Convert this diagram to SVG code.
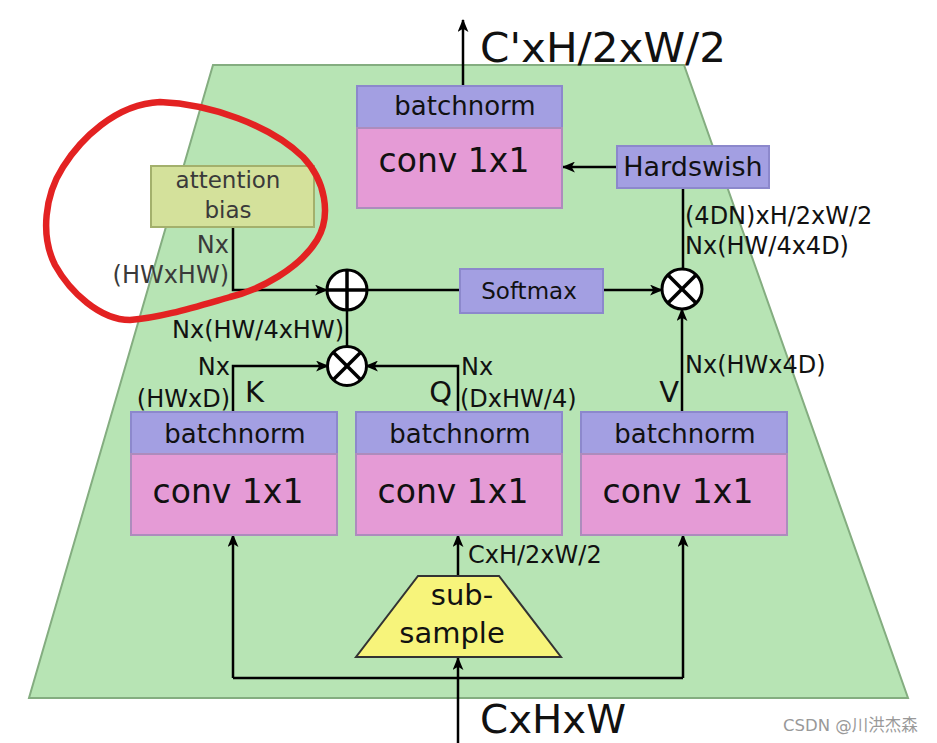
<svg xmlns="http://www.w3.org/2000/svg" width="937" height="743" viewBox="0 0 937 743">
<style>
text{font-family:"DejaVu Sans","Noto Sans",sans-serif;fill:#111}
.hdr{fill:#a39fe2;stroke:#8c88cc;stroke-width:2}
.body{fill:#e59bd6;stroke:#ad8cbd;stroke-width:2}
.bn{font-size:26px;text-anchor:middle}
.cv{font-size:33px;text-anchor:middle}
.lbl{font-size:24px}
.big{font-size:41px}
.qkv{font-size:29px}
.ln{fill:none;stroke:#000;stroke-width:2.5}
.op{fill:#fff;stroke:#000;stroke-width:3}
.opl{stroke:#000;stroke-width:3.5}
</style>
<defs>
<marker id="ah" viewBox="0 0 12 10" refX="11" refY="5" markerWidth="13" markerHeight="11" markerUnits="userSpaceOnUse" orient="auto">
<path d="M0,0 L12,5 L0,10 L3,5 Z" fill="#000"/>
</marker>
</defs>
<g id="background">
<polygon points="213,65 684,65 908,698 29,698" fill="#b7e4b4" stroke="#84ad80" stroke-width="2"/>
</g>
<g id="connectors">
<path class="ln" d="M463,85 V20" marker-end="url(#ah)"/>
<path class="ln" d="M617,167 H563" marker-end="url(#ah)"/>
<path class="ln" d="M683,189 V269"/>
<path class="ln" d="M233,227 V290 H327" marker-end="url(#ah)"/>
<path class="ln" d="M367,290 H460"/>
<path class="ln" d="M603,290 H662" marker-end="url(#ah)"/>
<path class="ln" d="M347,347 V310"/>
<path class="ln" d="M233,412 V366 H328" marker-end="url(#ah)"/>
<path class="ln" d="M458,412 V366 H366" marker-end="url(#ah)"/>
<path class="ln" d="M682,412 V309" marker-end="url(#ah)"/>
<path class="ln" d="M458,576 V535" marker-end="url(#ah)"/>
<path class="ln" d="M458,743 V658" marker-end="url(#ah)"/>
<path class="ln" d="M233,678 H683"/>
<path class="ln" d="M233,678 V535" marker-end="url(#ah)"/>
<path class="ln" d="M683,678 V535" marker-end="url(#ah)"/>
</g>
<g id="conv-out">
<rect class="hdr" x="357" y="86" width="205" height="42"/>
<rect class="body" x="357" y="128" width="205" height="80"/>
<text class="bn" x="465" y="115">batchnorm</text>
<text class="cv" x="454" y="172">conv 1x1</text>
</g>
<g id="hardswish">
<rect class="hdr" x="617" y="146" width="152" height="42"/>
<text x="693" y="176" font-size="27" text-anchor="middle">Hardswish</text>
</g>
<g id="attention-bias">
<rect x="151" y="166" width="163" height="61" fill="#d4e19b" stroke="#a3b06c" stroke-width="2"/>
<text x="228" y="188" font-size="23" text-anchor="middle" style="fill:#3a3a3a">attention</text>
<text x="228" y="218" font-size="23" text-anchor="middle" style="fill:#3a3a3a">bias</text>
</g>
<g id="softmax">
<rect class="hdr" x="460" y="269" width="143" height="44"/>
<text x="529" y="299" font-size="23" text-anchor="middle">Softmax</text>
</g>
<g id="plus">
<circle class="op" cx="347" cy="290" r="20"/>
<line class="opl" x1="327" y1="290" x2="367" y2="290"/>
<line class="opl" x1="347" y1="270" x2="347" y2="310"/>
</g>
<g id="times-v">
<circle class="op" cx="682" cy="289" r="20"/>
<line class="opl" x1="668" y1="275" x2="696" y2="303"/>
<line class="opl" x1="696" y1="275" x2="668" y2="303"/>
</g>
<g id="times-qk">
<circle class="op" cx="347" cy="366" r="19.5"/>
<line class="opl" x1="333.5" y1="352.5" x2="360.5" y2="379.5"/>
<line class="opl" x1="360.5" y1="352.5" x2="333.5" y2="379.5"/>
</g>
<g id="conv-k">
<rect class="hdr" x="131" y="412" width="206" height="42"/>
<rect class="body" x="131" y="454" width="206" height="81"/>
<text class="bn" x="235" y="443">batchnorm</text>
<text class="cv" x="228" y="503">conv 1x1</text>
</g>
<g id="conv-q">
<rect class="hdr" x="356" y="412" width="206" height="42"/>
<rect class="body" x="356" y="454" width="206" height="81"/>
<text class="bn" x="460" y="443">batchnorm</text>
<text class="cv" x="453" y="503">conv 1x1</text>
</g>
<g id="conv-v">
<rect class="hdr" x="581" y="412" width="206" height="42"/>
<rect class="body" x="581" y="454" width="206" height="81"/>
<text class="bn" x="685" y="443">batchnorm</text>
<text class="cv" x="678" y="503">conv 1x1</text>
</g>
<g id="subsample">
<polygon points="418,576 499,576 561,657 356,657" fill="#f7f47b" stroke="#333" stroke-width="2"/>
<text x="462" y="605" font-size="29" text-anchor="middle">sub-</text>
<text x="452" y="643" font-size="29" text-anchor="middle">sample</text>
</g>
<g id="labels">
<text class="big" x="480" y="62" textLength="246" lengthAdjust="spacingAndGlyphs">C'xH/2xW/2</text>
<text x="480" y="733" style="font-size:39px" textLength="146" lengthAdjust="spacingAndGlyphs">CxHxW</text>
<text class="lbl" x="685" y="224">(4DN)xH/2xW/2</text>
<text class="lbl" x="685" y="254">Nx(HW/4x4D)</text>
<text class="lbl" x="229" y="253" text-anchor="end" style="fill:#3a3a3a">Nx</text>
<text class="lbl" x="229" y="283" text-anchor="end" style="fill:#3a3a3a">(HWxHW)</text>
<text class="lbl" x="344" y="338" text-anchor="end">Nx(HW/4xHW)</text>
<text class="lbl" x="230" y="375" text-anchor="end">Nx</text>
<text class="lbl" x="230" y="407" text-anchor="end">(HWxD)</text>
<text class="qkv" x="245" y="402">K</text>
<text class="qkv" x="452" y="402" text-anchor="end">Q</text>
<text class="lbl" x="461" y="375">Nx</text>
<text class="lbl" x="460" y="407">(DxHW/4)</text>
<text class="qkv" x="679" y="402" text-anchor="end">V</text>
<text class="lbl" x="685" y="373">Nx(HWx4D)</text>
<text class="lbl" x="468" y="563">CxH/2xW/2</text>
<text x="783" y="731" font-size="16.5" style="fill:#999;font-family:'DejaVu Sans','Noto Sans CJK SC',sans-serif">CSDN @川洪杰森</text>
</g>
<g id="annotation">
<path d="M160,102 C210,104 270,125 303,157 C325,180 332,215 317,240 C300,268 260,290 230,297 C195,307 160,318 130,320 C100,320 70,292 55,265 C40,235 45,195 63,167 C80,140 115,104 160,102 Z" fill="none" stroke="#e32222" stroke-width="6.5" stroke-linejoin="round"/>
</g>
</svg>
